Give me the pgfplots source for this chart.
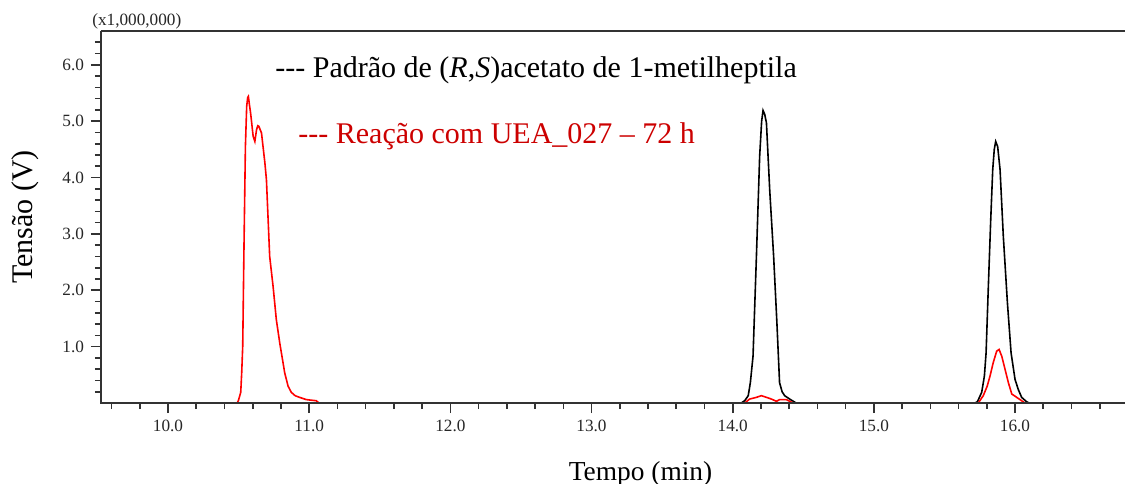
\documentclass[border=0pt]{standalone}
\usepackage{fontspec}
\setmainfont{Liberation Serif}
\usepackage{pgfplots}
\pgfplotsset{compat=1.18}
\definecolor{axisgray}{HTML}{333333}
\definecolor{txtred}{HTML}{CC0000}

\begin{document}
\begin{tikzpicture}
\begin{axis}[
  scale only axis,
  width=512pt, height=186pt,
  at={(0,0)}, anchor=south west,
  xmin=9.525, xmax=16.779,
  ymin=0, ymax=6.60,
  clip=false,
  axis line style={draw=none},
  tick pos=left,
  tick align=outside,
  xtick={10,11,12,13,14,15,16},
  minor xtick={9.6,9.8,10.2,10.4,10.6,10.8,11.2,11.4,11.6,11.8,12.2,12.4,12.6,12.8,13.2,13.4,13.6,13.8,14.2,14.4,14.6,14.8,15.2,15.4,15.6,15.8,16.2,16.4,16.6},
  ytick={1,2,3,4,5,6},
  minor ytick={0.2,0.4,0.6,0.8,1.2,1.4,1.6,1.8,2.2,2.4,2.6,2.8,3.2,3.4,3.6,3.8,4.2,4.4,4.6,4.8,5.2,5.4,5.6,5.8,6.2,6.4},
  major x tick style={line width=0.8pt, axisgray},
  minor x tick style={line width=0.8pt, axisgray},
  major y tick style={line width=0.8pt, axisgray},
  minor y tick style={line width=0.8pt, axisgray},
  major tick length=5pt,
  minor tick length=3pt,
  xticklabel style={/pgf/number format/.cd, fixed, fixed zerofill, precision=1},
  yticklabel style={/pgf/number format/.cd, fixed, fixed zerofill, precision=1},
  /pgf/number format/assume math mode=true,
  ticklabel style={font=\fontsize{8.6}{10}\selectfont, text=black!85},
  scaled ticks=false,
]

% standard (R,S)-1-methylheptyl acetate
\addplot[black, line width=0.8pt] coordinates {
(9.525,0) (14.06,0) (14.085,0.04) (14.11,0.13) (14.125,0.36) (14.144,0.83)
(14.168,2.60) (14.191,4.38) (14.205,5.00) (14.215,5.19) (14.227,5.12) (14.239,4.97)
(14.262,3.79) (14.29,2.60) (14.313,1.43) (14.332,0.36) (14.35,0.20) (14.368,0.13)
(14.416,0.05) (14.45,0) (15.715,0) (15.733,0.02) (15.764,0.19) (15.783,0.48) (15.795,0.89)
(15.811,2.07) (15.828,3.26) (15.842,4.14) (15.853,4.50) (15.863,4.64) (15.877,4.55)
(15.894,4.14) (15.917,2.96) (15.946,1.78) (15.972,0.89) (16.0,0.42) (16.023,0.24)
(16.047,0.10) (16.083,0.02) (16.10,0) (16.779,0)
};

% reaction with UEA_027, 72 h
\addplot[red, line width=0.8pt] coordinates {
(9.525,0) (10.49,0) (10.498,0.04) (10.515,0.19) (10.522,0.55) (10.529,1.01)
(10.538,2.78) (10.548,4.55) (10.557,5.26) (10.564,5.42) (10.569,5.44) (10.575,5.32)
(10.585,5.14) (10.603,4.73) (10.615,4.64) (10.627,4.85) (10.636,4.92) (10.643,4.91)
(10.662,4.79) (10.686,4.26) (10.697,3.96) (10.72,2.60) (10.744,2.07) (10.767,1.48)
(10.791,1.07) (10.807,0.83) (10.826,0.54) (10.85,0.30) (10.873,0.19) (10.90,0.13)
(10.932,0.10) (10.98,0.06) (11.05,0.04) (11.07,0) (14.085,0) (14.12,0.07)
(14.168,0.10) (14.203,0.13) (14.239,0.10) (14.274,0.07) (14.31,0.03) (14.332,0.06)
(14.38,0.06) (14.427,0) (15.74,0) (15.775,0.13) (15.803,0.30) (15.823,0.48)
(15.846,0.72) (15.87,0.92) (15.887,0.95) (15.906,0.83) (15.929,0.60) (15.953,0.36)
(15.977,0.16) (16.012,0.10) (16.047,0.04) (16.07,0) (16.779,0)
};

% frame: left, bottom and top lines only, over the traces' baseline
\draw[axisgray, line width=1.4pt] (rel axis cs:0,1) -- (rel axis cs:0,0) -- (rel axis cs:1,0);
\draw[axisgray, line width=1.2pt] (rel axis cs:0,1) -- (rel axis cs:1,1);

% scale factor, axis titles and series captions
\node[anchor=base west, inner sep=0pt, text=black!85, font=\fontsize{8.6}{10}\selectfont]
  at ([xshift=-4.5pt, yshift=3pt]rel axis cs:0,1) {(x1,000,000)};
\node[rotate=90, inner sep=0pt, font=\fontsize{15}{18}\selectfont]
  at ([xshift=-38pt]rel axis cs:0,0.5) {Tensão (V)};
\node[anchor=base, inner sep=0pt, font=\fontsize{13.7}{16}\selectfont]
  at ([yshift=-38.5pt]rel axis cs:0.5269,0) {Tempo (min)};
\node[anchor=base west, inner sep=0pt, font=\fontsize{15}{18}\selectfont]
  at (rel axis cs:0.1699,0.8763) {{-}{-}{-} Padrão de (\textit{R},\textit{S})acetato de 1-metilheptila};
\node[anchor=base west, inner sep=0pt, text=txtred, font=\fontsize{15}{18}\selectfont]
  at (rel axis cs:0.1924,0.6981) {{-}{-}{-} Reação com UEA\_027 \textendash{} 72 h};
\end{axis}
\pgfresetboundingbox
\useasboundingbox (-50.5pt,-40pt) rectangle (512pt,201.5pt);
\end{tikzpicture}
\end{document}
